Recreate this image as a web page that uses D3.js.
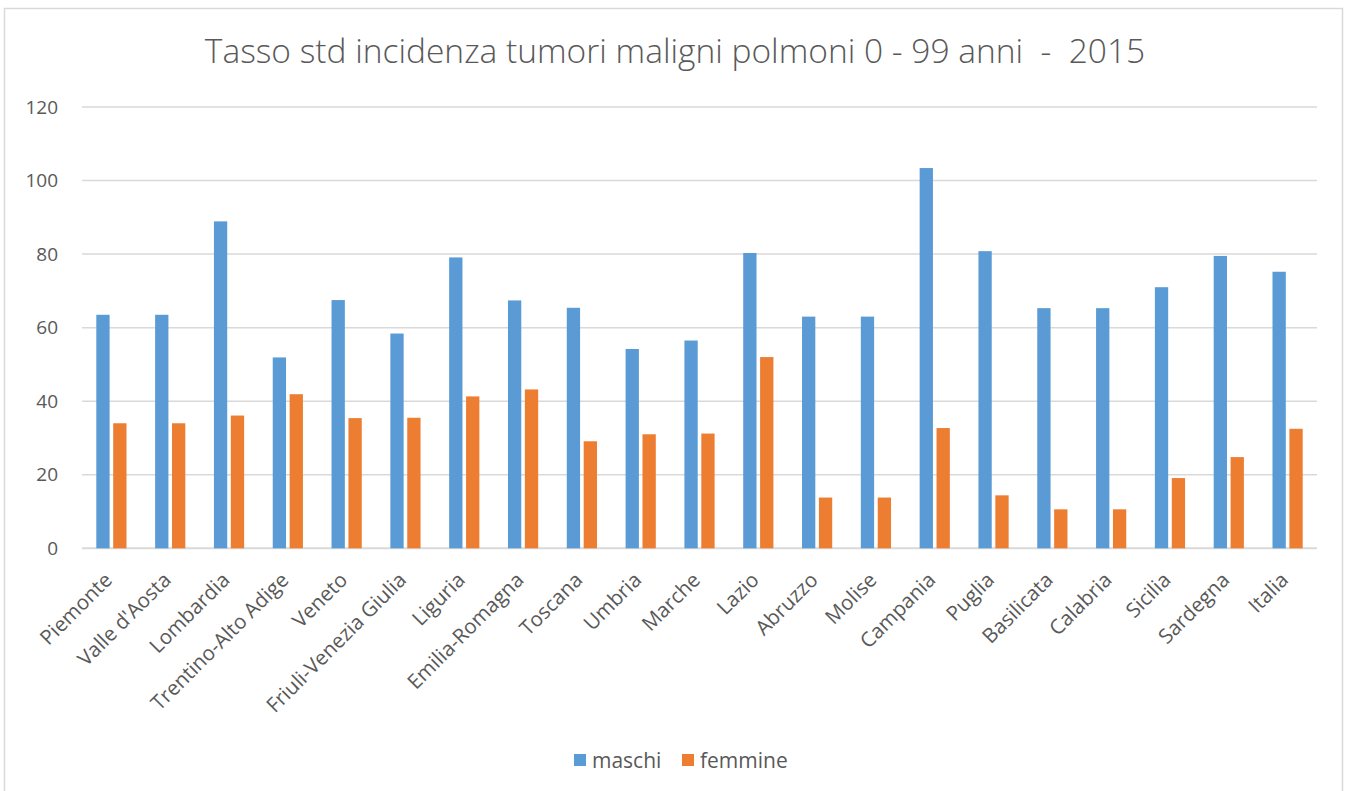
<!DOCTYPE html>
<html>
<head>
<meta charset="utf-8">
<script src="https://cdn.jsdelivr.net/npm/d3@7"></script>
<style>
  body { margin: 0; background: #fff; }
  text { font-family: "Open Sans", sans-serif; fill: #595959; }
</style>
</head>
<body>
<svg id="chart" width="1348" height="791"></svg>
<script>
// data
var regions = ["Piemonte", "Valle d'Aosta", "Lombardia", "Trentino-Alto Adige", "Veneto",
  "Friuli-Venezia Giulia", "Liguria", "Emilia-Romagna", "Toscana", "Umbria", "Marche",
  "Lazio", "Abruzzo", "Molise", "Campania", "Puglia", "Basilicata", "Calabria",
  "Sicilia", "Sardegna", "Italia"];
var maschi = [63.5, 63.5, 88.9, 51.9, 67.5, 58.4, 79.1, 67.4, 65.4, 54.2, 56.5,
  80.3, 63.0, 63.0, 103.4, 80.8, 65.3, 65.3, 71.0, 79.5, 75.2];
var femmine = [34.0, 34.0, 36.1, 41.9, 35.4, 35.5, 41.3, 43.2, 29.1, 31.0, 31.2,
  52.0, 13.8, 13.8, 32.7, 14.4, 10.6, 10.6, 19.1, 24.8, 32.5];
var yTicks = [0, 20, 40, 60, 80, 100, 120];
var seriesNames = ["maschi", "femmine"];
var colors = ["#5b9bd5", "#ed7d31"];

var svg = d3.select("#chart");

// chart area border
svg.append("rect")
  .attr("x", 4.5).attr("y", 8.5)
  .attr("width", 1338).attr("height", 800)
  .attr("fill", "#fff")
  .attr("stroke", "#d9d9d9")
  .attr("stroke-width", 1.5);

// plot area (window.top is reserved, so use other names)
var plotLeft = 82, plotRight = 1317, plotTop = 107, plotBottom = 548.3;

var x = d3.scaleBand().domain(regions).range([plotLeft, plotRight]).padding(0);
var y = d3.scaleLinear().domain([0, 120]).range([plotBottom, plotTop]);

// gridlines
svg.append("g").selectAll("line")
  .data(yTicks)
  .enter().append("line")
  .attr("x1", plotLeft).attr("x2", plotRight)
  .attr("y1", function(d) { return y(d); })
  .attr("y2", function(d) { return y(d); })
  .attr("stroke", "#d9d9d9")
  .attr("stroke-width", function(d) { return d === 0 ? 2 : 1.5; });

// y axis labels
var yAxis = d3.axisLeft(y).tickValues(yTicks).tickSize(0).tickPadding(0);
var gy = svg.append("g").attr("transform", "translate(58,0)").call(yAxis);
gy.select(".domain").remove();
gy.selectAll("text")
  .attr("font-size", 19)
  .attr("font-family", "Open Sans, sans-serif")
  .attr("fill", "#595959");

// bars
var barW = 13.3, gap = 3.6;
var series = [maschi, femmine];
series.forEach(function(vals, s) {
  svg.append("g").selectAll("rect")
    .data(vals)
    .enter().append("rect")
    .attr("x", function(d, i) {
      var c = x(regions[i]) + x.bandwidth() / 2;
      return s === 0 ? c - gap / 2 - barW : c + gap / 2;
    })
    .attr("y", function(d) { return y(d); })
    .attr("width", barW)
    .attr("height", function(d) { return y(0) - y(d); })
    .attr("fill", colors[s]);
});

// x labels rotated
var xAxis = d3.axisBottom(x).tickSize(0).tickPadding(0);
var gx = svg.append("g").attr("transform", "translate(0," + plotBottom + ")").call(xAxis);
gx.select(".domain").remove();
gx.selectAll("text")
  .attr("font-size", 20.5)
  .attr("font-family", "Open Sans, sans-serif")
  .attr("fill", "#595959")
  .attr("text-anchor", "end")
  .attr("dy", 0)
  .attr("y", 0)
  .attr("transform", "translate(2,33) rotate(-45)");

// title
svg.append("text")
  .attr("x", 675).attr("y", 63)
  .attr("text-anchor", "middle")
  .attr("font-size", 33.5)
  .attr("font-weight", 300)
  .style("white-space", "pre")
  .text("Tasso std incidenza tumori maligni polmoni 0 - 99 anni  -  2015");

// legend
var legend = svg.append("g");
var lx = [574, 682];
seriesNames.forEach(function(name, i) {
  legend.append("rect")
    .attr("x", lx[i]).attr("y", 754)
    .attr("width", 12).attr("height", 12)
    .attr("fill", colors[i]);
  legend.append("text")
    .attr("x", lx[i] + 18).attr("y", 768)
    .attr("font-size", 21)
    .text(name);
});
</script>
</body>
</html>
